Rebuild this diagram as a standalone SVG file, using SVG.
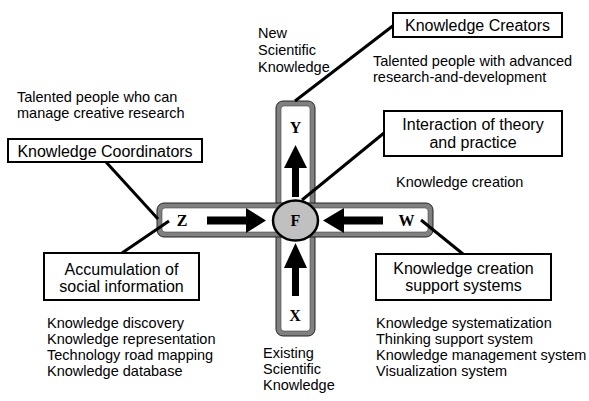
<svg xmlns="http://www.w3.org/2000/svg" width="589" height="401" viewBox="0 0 589 401">
<style>
.t{font-family:"Liberation Sans",Arial,sans-serif;font-size:14.5px;fill:#000}
.bt{font-family:"Liberation Sans",Arial,sans-serif;font-size:16px;fill:#000;text-anchor:middle}
.l{font-family:"Liberation Serif","Times New Roman",serif;font-size:16px;font-weight:bold;fill:#000;text-anchor:middle}
.box{fill:#fff;stroke:#000;stroke-width:2}
.outer{fill:#808080;stroke:#222;stroke-width:1}
.inner{fill:#fff;stroke:#444;stroke-width:0.6}
.c{stroke:#000;stroke-width:3;fill:none}
.arr{fill:#000}
</style>
<rect width="589" height="401" fill="#fff"/>
<g id="cross">
<rect class="outer" x="276" y="101" width="39" height="235" rx="7"/>
<rect class="inner" x="281" y="106" width="29" height="225" rx="3"/>
<rect class="outer" x="157" y="203" width="276" height="34" rx="7"/>
<rect class="inner" x="162" y="208" width="266" height="24" rx="3"/>
</g>
<g id="connectors">
<line class="c" x1="394" y1="25" x2="295" y2="101"/>
<line class="c" x1="384" y1="133" x2="302" y2="200"/>
<line class="c" x1="106" y1="162" x2="158" y2="219"/>
<line class="c" x1="122" y1="253" x2="169" y2="221"/>
<line class="c" x1="421" y1="220" x2="463" y2="254"/>
</g>
<g id="arrows">
<polygon class="arr" points="292,197 292,168 284,168 295.5,145 307,168 299,168 299,197"/>
<polygon class="arr" points="292,296 292,268 284,268 295.5,243 307,268 299,268 299,296"/>
<polygon class="arr" points="207,216.5 246,216.5 246,208 266,220.5 246,233 246,224.5 207,224.5"/>
<polygon class="arr" points="383,216.5 344,216.5 344,208 323,220.5 344,233 344,224.5 383,224.5"/>
</g>
<g id="F">
<ellipse cx="295.5" cy="220.5" rx="22.5" ry="20" fill="#c0c0c0" stroke="#000" stroke-width="2.5"/>
<text class="l" x="295.5" y="226">F</text>
</g>
<g id="Y"><text class="l" x="295.5" y="133">Y</text></g>
<g id="Z"><text class="l" x="182" y="226">Z</text></g>
<g id="W"><text class="l" x="406.5" y="226">W</text></g>
<g id="X"><text class="l" x="295" y="321">X</text></g>
<g id="creators">
<rect class="box" x="393" y="13" width="169" height="24"/>
<text class="bt" x="477.5" y="31">Knowledge Creators</text>
</g>
<g id="interaction">
<rect class="box" x="384" y="111" width="178" height="45"/>
<text class="bt" x="473" y="130">Interaction of theory</text>
<text class="bt" x="473" y="148">and practice</text>
</g>
<g id="coordinators">
<rect class="box" x="8" y="139" width="194" height="23"/>
<text class="bt" x="105" y="157">Knowledge Coordinators</text>
</g>
<g id="accumulation">
<rect class="box" x="44" y="253" width="155" height="47"/>
<text class="bt" x="121.5" y="275">Accumulation of</text>
<text class="bt" x="121.5" y="292">social information</text>
</g>
<g id="support">
<rect class="box" x="376" y="254" width="175" height="46"/>
<text class="bt" x="463.5" y="274">Knowledge creation</text>
<text class="bt" x="463.5" y="291">support systems</text>
</g>
<g id="labels">
<text class="t" x="258" y="38">New</text>
<text class="t" x="258" y="55">Scientific</text>
<text class="t" x="258" y="72">Knowledge</text>
<text class="t" x="373" y="66">Talented people with advanced</text>
<text class="t" x="373" y="82">research-and-development</text>
<text class="t" x="17" y="102">Talented people who can</text>
<text class="t" x="17" y="118">manage creative research</text>
<text class="t" x="396" y="187">Knowledge creation</text>
<text class="t" x="47" y="328">Knowledge discovery</text>
<text class="t" x="47" y="344">Knowledge representation</text>
<text class="t" x="47" y="360">Technology road mapping</text>
<text class="t" x="47" y="376">Knowledge database</text>
<text class="t" x="376" y="328">Knowledge systematization</text>
<text class="t" x="376" y="344">Thinking support system</text>
<text class="t" x="376" y="360">Knowledge management system</text>
<text class="t" x="376" y="376">Visualization system</text>
<text class="t" x="263" y="358">Existing</text>
<text class="t" x="263" y="374">Scientific</text>
<text class="t" x="263" y="390">Knowledge</text>
</g>
</svg>
